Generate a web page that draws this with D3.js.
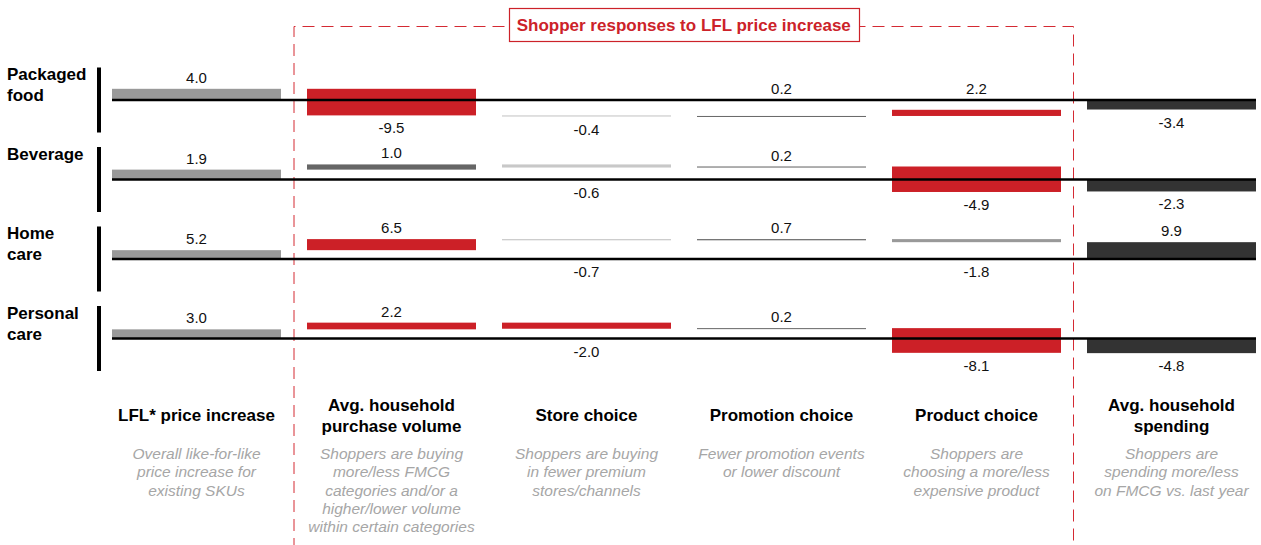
<!DOCTYPE html>
<html>
<head>
<meta charset="utf-8">
<script src="https://cdn.jsdelivr.net/npm/d3@7"></script>
<style>
  body { margin: 0; background: #fff; }
  svg text { font-family: "Liberation Sans", Arial, sans-serif; }
</style>
</head>
<body>
<div id="chart"></div>
<script>
// rows (product categories) and waterfall steps (columns)
const categories = ["Packaged food", "Beverage", "Home care", "Personal care"];
const categoryLines = [["Packaged", "food"], ["Beverage"], ["Home", "care"], ["Personal", "care"]];
const steps = ["LFL* price increase", "Avg. household purchase volume", "Store choice",
               "Promotion choice", "Product choice", "Avg. household spending"];
const stepHeaders = [["LFL* price increase"], ["Avg. household", "purchase volume"], ["Store choice"],
                     ["Promotion choice"], ["Product choice"], ["Avg. household", "spending"]];
const stepNotes = [
    ["Overall like-for-like", "price increase for", "existing SKUs"],
    ["Shoppers are buying", "more/less FMCG", "categories and/or a", "higher/lower volume", "within certain categories"],
    ["Shoppers are buying", "in fewer premium", "stores/channels"],
    ["Fewer promotion events", "or lower discount"],
    ["Shoppers are", "choosing a more/less", "expensive product"],
    ["Shoppers are", "spending more/less", "on FMCG vs. last year"]
];
const title = "Shopper responses to LFL price increase";

// values per category, one per step (last step is the total)
const packagedFood = [4.0, -9.5, -0.4, 0.2, 2.2, -3.4];
const beverage = [1.9, 1.0, -0.6, 0.2, -4.9, -2.3];
const homeCare = [5.2, 6.5, -0.7, 0.7, -1.8, 9.9];
const personalCare = [3.0, 2.2, -2.0, 0.2, -8.1, -4.8];

// emphasis of each bar
const packagedFoodTone = ["base", "key", "faint", "minor", "key", "total"];
const beverageTone = ["base", "minor", "faint", "minor", "key", "total"];
const homeCareTone = ["base", "key", "faint", "minor", "neutral", "total"];
const personalCareTone = ["base", "key", "key", "minor", "key", "total"];

const seriesValues = [packagedFood, beverage, homeCare, personalCare];
const seriesTones = [packagedFoodTone, beverageTone, homeCareTone, personalCareTone];

// styles
const toneColor = {
    base: "#999999", key: "#cc2027", faint: "#c8c8c8",
    minor: "#666666", neutral: "#999999", total: "#333333"
};
const red = "#cc2229";
const noteColor = "#a6a6a6";
const rowUnitPx = [2.8, 5.2, 1.7, 3.05];   // pixels per percentage point, per row

const width = 1261, height = 545;

const svg = d3.select("#chart").append("svg")
    .attr("width", width).attr("height", height);

const x = d3.scaleBand().domain(steps).range([112, 1256]).paddingInner(26 / 195).paddingOuter(0);
const bw = x.bandwidth();
const yRow = d3.scalePoint().domain(categories).range([100, 338.5]);

// dashed frame around the shopper responses
const xLeft = (x(steps[0]) + bw + x(steps[1])) / 2;
const xRight = Math.floor((x(steps[4]) + bw + x(steps[5])) / 2) - 0.5;
const frameTop = 26.5;
svg.append("path")
    .attr("d", `M${xLeft},${height + 5}V${frameTop}H${xRight}V${height + 5}`)
    .attr("fill", "none")
    .attr("stroke", "#d42a33")
    .attr("stroke-width", 1)
    .attr("stroke-dasharray", "12,7");

const titleG = svg.append("g");
const titleRect = titleG.append("rect");
const titleText = titleG.append("text")
    .attr("x", (xLeft + xRight) / 2)
    .attr("y", 30.5)
    .attr("text-anchor", "middle")
    .attr("font-size", 17)
    .attr("font-weight", "bold")
    .attr("fill", red)
    .text(title);
const tw = titleText.node().getComputedTextLength();
titleRect
    .attr("x", Math.round((xLeft + xRight) / 2 - tw / 2 - 8) + 0.5)
    .attr("y", 8.5)
    .attr("width", Math.round(tw + 16))
    .attr("height", 33)
    .attr("fill", "#fff")
    .attr("stroke", red)
    .attr("stroke-width", 1.2);

// rows
categories.forEach((cat, i) => {
    const base = yRow(cat);
    const y = d3.scaleLinear().domain([0, 1]).range([base, base - rowUnitPx[i]]);
    const values = seriesValues[i];

    let run = 0;
    const segs = values.map((v, j) => {
        const isTotal = j === values.length - 1;
        const from = isTotal ? 0 : run;
        const to = from + v;
        if (!isTotal) run = to;
        return { step: steps[j], v: v, from: from, to: to, tone: seriesTones[i][j] };
    });

    const g = svg.append("g");

    // category label and side bar
    g.append("rect")
        .attr("x", 97).attr("width", 4)
        .attr("y", base - 32.5).attr("height", 65)
        .attr("fill", "#000");

    g.append("text")
        .attr("x", 7)
        .attr("font-size", 17)
        .attr("font-weight", "bold")
        .attr("fill", "#000")
        .selectAll("tspan")
        .data(categoryLines[i])
        .enter()
        .append("tspan")
        .attr("x", 7)
        .attr("y", (d, k) => base - 20 + k * 21)
        .text(d => d);

    // bars
    g.selectAll("rect.bar")
        .data(segs)
        .enter()
        .append("rect")
        .attr("class", "bar")
        .attr("x", d => x(d.step))
        .attr("width", bw)
        .attr("y", d => Math.min(y(d.from), y(d.to)))
        .attr("height", d => Math.max(Math.abs(y(d.from) - y(d.to)), 1))
        .attr("fill", d => toneColor[d.tone]);

    // zero line
    g.append("line")
        .attr("x1", x(steps[0]))
        .attr("x2", x(steps[steps.length - 1]) + bw)
        .attr("y1", base).attr("y2", base)
        .attr("stroke", "#000")
        .attr("stroke-width", 2.5);

    // value labels
    g.selectAll("text.val")
        .data(segs)
        .enter()
        .append("text")
        .attr("class", "val")
        .attr("x", d => x(d.step) + bw / 2)
        .attr("y", d => {
            const top = Math.min(y(d.from), y(d.to));
            const bottom = Math.max(y(d.from), y(d.to), top + 1);
            return d.v >= 0 ? Math.min(top, base) - 6 : Math.max(bottom, base) + 18;
        })
        .attr("text-anchor", "middle")
        .attr("font-size", 15)
        .attr("fill", "#111")
        .text(d => d.v.toFixed(1));
});

// column headers and notes
const foot = svg.append("g");
steps.forEach((s, j) => {
    const cx = x(s) + bw / 2;
    const lines = stepHeaders[j];
    foot.append("text")
        .attr("text-anchor", "middle")
        .attr("font-size", 17)
        .attr("font-weight", "bold")
        .attr("fill", "#000")
        .selectAll("tspan")
        .data(lines)
        .enter()
        .append("tspan")
        .attr("x", cx)
        .attr("y", (d, k) => 421 - (lines.length - 1) * 10.5 + k * 21)
        .text(d => d);

    foot.append("text")
        .attr("text-anchor", "middle")
        .attr("font-size", 15.5)
        .attr("font-style", "italic")
        .attr("fill", noteColor)
        .selectAll("tspan")
        .data(stepNotes[j])
        .enter()
        .append("tspan")
        .attr("x", cx)
        .attr("y", (d, k) => 459 + k * 18.3)
        .text(d => d);
});
</script>
</body>
</html>
